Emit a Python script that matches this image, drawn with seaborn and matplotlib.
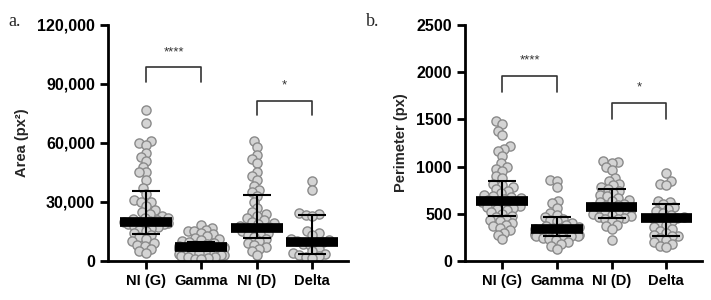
import numpy as np
import pandas as pd
import matplotlib
matplotlib.use("Agg")
import matplotlib.pyplot as plt
from matplotlib.ticker import FuncFormatter, MultipleLocator
import seaborn as sns

categories = ["NI (G)", "Gamma", "NI (D)", "Delta"]

area_nig = [77000, 70000, 61000, 60000, 59000, 55000, 53000, 51000, 48000, 45000, 45000,
            41000, 37000, 34000, 31000, 30000, 30000, 28000, 26000, 25000, 24000, 23000,
            22000, 22000, 21500, 21000, 20500, 20000, 20000, 19500, 19000, 19000, 18500,
            18000, 17500, 17000, 16000, 15000, 14000, 13000, 12000, 11000, 10000, 9000,
            8000, 7500, 6000, 5000, 4000]
area_gamma = [18500, 17000, 16000, 15500, 15000, 14000, 13500, 12500, 11500, 11000, 10500,
              10000, 9500, 9000, 8500, 8000, 7500, 7200, 7000, 6800, 6500, 6200, 6000, 5500,
              5000, 4800, 4500, 4000, 3500, 3000, 2800, 2500, 2000, 1800, 1500, 1200, 1000]
area_nid = [61000, 58000, 54000, 52000, 50000, 45000, 43000, 41000, 38000, 36000, 35000,
            33000, 30000, 27000, 25000, 24000, 23000, 22000, 21000, 20000, 19500, 19000,
            18000, 17500, 17000, 16500, 16000, 15000, 14000, 13500, 13000, 12000, 11000,
            10000, 9000, 8000, 7000, 6000, 5000, 3000]
area_delta = [40500, 36000, 24500, 24000, 23500, 23000, 15000, 14000, 13000, 11000, 10500,
              10000, 9500, 9000, 8500, 8000, 6000, 5000, 4000, 3500, 3000, 2500, 2000, 1500]

per_nig = [1480, 1450, 1380, 1330, 1220, 1190, 1160, 1110, 1040, 1000, 970, 950, 900, 880,
           820, 800, 780, 760, 740, 720, 700, 690, 680, 670, 660, 650, 640, 630, 620, 610,
           600, 590, 580, 570, 560, 550, 540, 520, 500, 480, 470, 450, 430, 420, 400, 380,
           370, 350, 330, 300, 280, 230]
per_gamma = [860, 850, 780, 640, 610, 560, 510, 490, 470, 450, 430, 420, 400, 380, 370, 360,
             350, 345, 340, 335, 330, 320, 310, 300, 295, 290, 280, 275, 270, 265, 260, 250,
             240, 230, 220, 200, 180, 160, 130]
per_nid = [1060, 1050, 1040, 1000, 960, 880, 850, 820, 800, 780, 760, 740, 720, 700, 690,
           670, 650, 640, 620, 600, 590, 580, 570, 560, 550, 540, 530, 520, 510, 500, 490,
           480, 470, 460, 450, 440, 420, 380, 370, 340, 220]
per_delta = [930, 850, 820, 800, 640, 620, 600, 570, 550, 530, 510, 490, 470, 460, 450, 440,
             420, 400, 380, 360, 340, 320, 300, 280, 270, 260, 240, 220, 200, 180, 160, 150]

area_med = [20000, 7000, 17000, 9500]
area_lo = [13500, 5000, 11500, 3500]
area_hi = [35500, 9500, 33500, 23500]
per_med = [640, 340, 570, 455]
per_lo = [480, 270, 460, 270]
per_hi = [845, 470, 760, 605]

sig_labels = ["****", "*"]
sig_pairs = [(0, 1), (2, 3)]
area_sig_y = [98500, 81500]
per_sig_y = [1960, 1675]

sns.set_style("ticks")
plt.rcParams["font.family"] = ["Liberation Sans", "DejaVu Sans"]

fill = "#d4d4d4"
edge = "#8a8a8a"


def long_df(groups):
    rows = []
    for cat, vals in zip(categories, groups):
        for v in vals:
            rows.append((cat, v))
    return pd.DataFrame(rows, columns=["group", "value"])


def panel(ax, groups, med, lo, hi, sig_y, leg, ymax, ystep, ylabel, fmt):
    df = long_df(groups)
    ax.set_ylim(0, ymax)
    ax.set_xlim(-0.68, 3.65)
    sns.swarmplot(data=df, x="group", y="value", order=categories, color=fill,
                  edgecolor=edge, linewidth=1.0, size=3.6, ax=ax, zorder=2,
                  warn_thresh=1.0)
    x = np.arange(len(categories))
    med = np.array(med); lo = np.array(lo); hi = np.array(hi)
    ax.errorbar(x, med, yerr=[med - lo, hi - med], fmt="none", ecolor="black",
                elinewidth=1.5, capsize=10, capthick=1.5, zorder=4)
    ax.hlines(med, x - 0.47, x + 0.47, color="black", lw=7, zorder=5)
    for (a, b), yv, lab in zip(sig_pairs, sig_y, sig_labels):
        ax.plot([a, a, b, b], [yv - leg, yv, yv, yv - leg], color="#333333", lw=1.2)
        ax.text((a + b) / 2, yv + leg * 0.6, lab, ha="center", va="bottom",
                fontsize=9.5, color="#333333")
    ax.set_ylim(0, ymax)
    ax.set_xlim(-0.68, 3.65)
    ax.yaxis.set_major_locator(MultipleLocator(ystep))
    ax.yaxis.set_major_formatter(FuncFormatter(fmt))
    ax.set_xlabel("")
    ax.set_ylabel(ylabel, fontsize=10.5, fontweight="bold", labelpad=6)
    for s in ["top", "right"]:
        ax.spines[s].set_visible(False)
    for s in ["left", "bottom"]:
        ax.spines[s].set_linewidth(2)
        ax.spines[s].set_color("black")
    ax.tick_params(axis="both", width=2, length=6, color="black", labelcolor="black")
    ax.tick_params(axis="y", labelsize=11.5)
    ax.tick_params(axis="x", labelsize=10.5)
    for t in ax.get_xticklabels() + ax.get_yticklabels():
        t.set_fontweight("bold")


fig = plt.figure(figsize=(7.11, 3.0), dpi=100)
ax1 = fig.add_axes([0.152, 0.13, 0.338, 0.787])
ax2 = fig.add_axes([0.654, 0.13, 0.333, 0.787])

panel(ax1, [area_nig, area_gamma, area_nid, area_delta], area_med, area_lo, area_hi,
      area_sig_y, 7500, 120000, 30000, "Area (px²)", lambda v, p: f"{v:,.0f}")
panel(ax2, [per_nig, per_gamma, per_nid, per_delta], per_med, per_lo, per_hi,
      per_sig_y, 170, 2500, 500, "Perimeter (px)", lambda v, p: f"{v:.0f}")

fig.text(0.012, 0.955, "a.", fontsize=13, family=["Liberation Serif", "DejaVu Serif"],
         va="top")
fig.text(0.515, 0.955, "b.", fontsize=13, family=["Liberation Serif", "DejaVu Serif"],
         va="top")

# Let seaborn lay out the swarms with compact spacing, then freeze the
# positions and draw the markers at full size so they overlap as in the original.
fig.canvas.draw()
for ax in (ax1, ax2):
    for coll in ax.collections:
        if "draw" in coll.__dict__:
            del coll.__dict__["draw"]
            coll.set_sizes([6.6 ** 2])

fig.savefig("out.png", dpi=100)
